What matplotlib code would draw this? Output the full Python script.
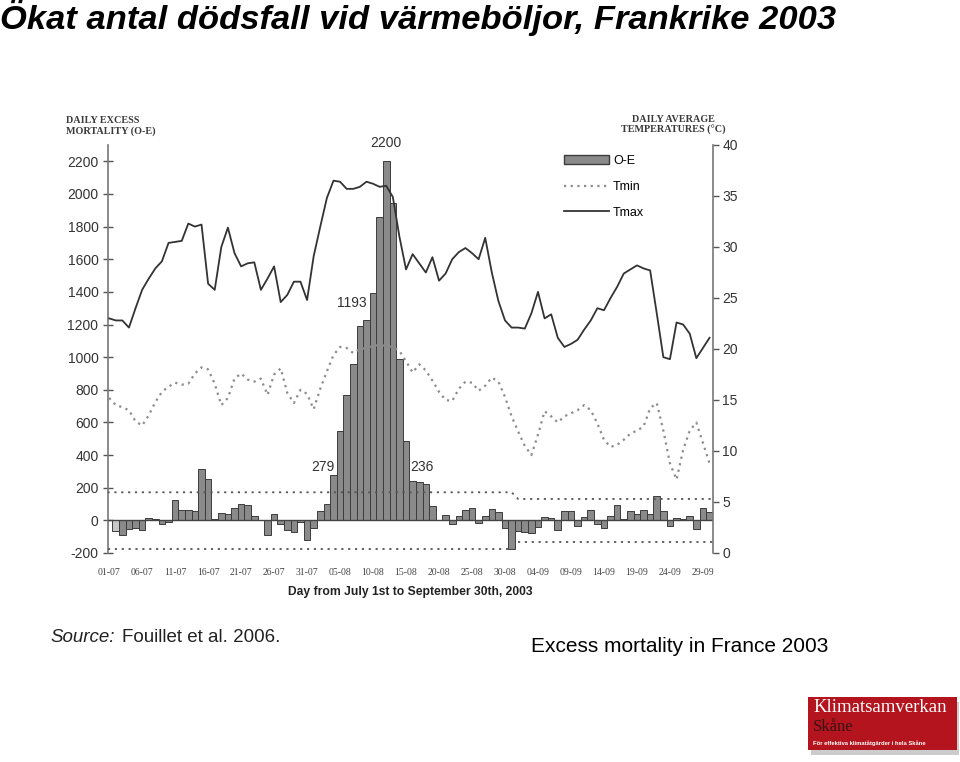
import matplotlib
matplotlib.use("Agg")
import matplotlib.pyplot as plt
from matplotlib.patches import Patch, Rectangle
from matplotlib.lines import Line2D

plt.rcParams["font.family"] = ["Liberation Sans", "DejaVu Sans"]
plt.rcParams["axes.unicode_minus"] = False

# daily excess mortality O-E, 2 July .. 30 September 2003
excess = [-65, -88, -55, -45, -58, 15, 8, -20, -10, 122,
          63, 63, 57, 314, 255, 10, 43, 36, 78, 100,
          93, 24, 2, -92, 36, -20, -62, -70, -13, -118,
          -45, 57, 102, 279, 546, 766, 958, 1193, 1229, 1392,
          1860, 2200, 1942, 990, 485, 243, 236, 220, 88, 0,
          31, -22, 29, 65, 73, -16, 29, 67, 49, -49,
          -175, -67, -71, -78, -41, 20, 14, -59, 55, 55,
          -35, 20, 65, -20, -47, 29, 92, 8, 55, 41,
          65, 41, 151, 55, -33, 14, 10, 29, -53, 73, 49]

# daily average temperatures, 1 July .. 30 September 2003
tmax = [23.0, 22.8, 22.8, 22.1, 24.0, 25.8, 26.9, 27.9, 28.6, 30.4,
        30.5, 30.6, 32.3, 32.0, 32.2, 26.4, 25.8, 30.0, 31.9, 29.4,
        28.1, 28.4, 28.5, 25.8, 26.9, 28.1, 24.6, 25.3, 26.6, 26.6,
        24.8, 29.1, 32.0, 34.8, 36.5, 36.4, 35.7, 35.7, 35.9, 36.4,
        36.2, 35.9, 36.0, 34.9, 31.0, 27.8, 29.3, 28.4, 27.5, 29.0,
        26.7, 27.4, 28.8, 29.5, 29.9, 29.4, 28.8, 30.9, 27.5, 24.7,
        22.8, 22.1, 22.1, 22.0, 23.5, 25.6, 23.0, 23.4, 21.1, 20.2,
        20.5, 20.9, 21.9, 22.8, 24.0, 23.8, 25.0, 26.1, 27.4, 27.8,
        28.2, 27.9, 27.7, 23.5, 19.2, 19.0, 22.6, 22.4, 21.5, 19.1,
        20.1, 21.1]
tmin = [15.2, 14.5, 14.3, 14.0, 12.9, 12.5, 13.5, 14.8, 15.8, 16.3,
        16.7, 16.5, 16.6, 17.6, 18.2, 18.0, 16.6, 14.5, 15.2, 17.1,
        17.6, 17.0, 16.8, 17.1, 15.5, 17.5, 18.1, 15.7, 14.7, 16.0,
        15.6, 14.1, 16.1, 17.8, 19.4, 20.2, 20.1, 19.6, 20.0, 20.1,
        20.3, 20.4, 20.3, 20.2, 19.8, 18.8, 17.7, 18.5, 17.9, 16.9,
        15.8, 15.0, 14.9, 16.1, 16.8, 16.7, 15.9, 16.4, 17.2, 16.8,
        15.3, 13.4, 11.9, 10.5, 9.6, 11.6, 13.9, 13.4, 12.8, 13.4,
        13.7, 14.0, 14.5, 14.0, 12.7, 11.1, 10.4, 10.6, 11.1, 11.7,
        12.0, 12.4, 14.2, 14.7, 12.0, 8.8, 7.2, 10.1, 12.0, 12.8,
        10.8, 8.8]

tick_labels = ["01-07", "06-07", "11-07", "16-07", "21-07", "26-07", "31-07",
               "05-08", "10-08", "15-08", "20-08", "25-08", "30-08",
               "04-09", "09-09", "14-09", "19-09", "24-09", "29-09"]

# confidence band of the expected mortality, before / after 1 September
band_upper = [172, 131]
band_lower = [-173, -130]
peak_labels = ["2200", "1193", "279", "236"]

bar_days = list(range(1, len(excess) + 1))
line_days = list(range(len(tmax)))

fig = plt.figure(figsize=(9.6, 7.62), dpi=100)


def px(x, y):
    return x / 960, 1 - y / 762


ax = fig.add_axes([107.5 / 960, 1 - 553 / 762, 605 / 960, 408 / 762])
ax2 = ax.twinx()

colors = ["#c8c8c8"] + ["#8a8a8a"] * (len(excess) - 1)
ax.bar(bar_days, excess, width=1.0, color=colors, edgecolor="#3c3c3c",
       linewidth=0.7, zorder=2)
ax.axhline(0, color="#444444", lw=1.0, zorder=3)

dots = (0, (1.2, 2.6))
ax.plot([-0.25, 61, 62, 91.45], [band_upper[0], band_upper[0], band_upper[1], band_upper[1]],
        ls=dots, color="#555555", lw=1.3, zorder=3)
ax.plot([-0.25, 61], [band_lower[0], band_lower[0]], ls=dots, color="#555555", lw=1.3, zorder=3)
ax.plot([62, 91.45], [band_lower[1], band_lower[1]], ls=dots, color="#555555", lw=1.3, zorder=3)

ax2.plot(line_days, tmax, color="#333333", lw=1.3)
ax2.plot(line_days, tmin, color="#8c8c8c", lw=1.6, ls=(0, (1, 2)))

ax.set_xlim(-0.25, 91.45)
ax.set_ylim(-200, 2300)
ax2.set_ylim(0, 40)

for s in ["top", "bottom", "right"]:
    ax.spines[s].set_visible(False)
    ax2.spines[s if s != "right" else "left"].set_visible(False)
ax.spines["left"].set_color("#777777")
ax.spines["left"].set_linewidth(1.2)
ax2.spines["right"].set_color("#777777")
ax2.spines["right"].set_linewidth(1.2)

ax.set_yticks(range(-200, 2201, 200))
ax.tick_params(axis="y", direction="inout", length=7, width=1, colors="#555555",
               labelcolor="#333333", labelsize=10, pad=3)
ax.set_xticks(range(0, 91, 5))
ax.set_xticklabels(tick_labels, fontfamily="Liberation Serif", fontsize=7, color="#444444")
ax.tick_params(axis="x", length=0, pad=11)
ax2.set_yticks(range(0, 41, 5))
ax2.tick_params(axis="y", direction="out", length=4, width=1, colors="#555555",
                labelcolor="#333333", labelsize=10, pad=3)
ax.set_xlabel("Day from July 1st to September 30th, 2003", fontsize=8.7,
              fontweight="bold", color="#222222", labelpad=6)

# values written next to the highlighted bars
ax.text(42, 2290, peak_labels[0], ha="center", va="baseline", fontsize=10, color="#333333")
ax.text(39.0, 1305, peak_labels[1], ha="right", va="baseline", fontsize=10, color="#333333")
ax.text(34.1, 305, peak_labels[2], ha="right", va="baseline", fontsize=10, color="#333333")
ax.text(45.7, 305, peak_labels[3], ha="left", va="baseline", fontsize=10, color="#333333")

handles = [Patch(facecolor="#8a8a8a", edgecolor="#3c3c3c", label="O-E"),
           Line2D([], [], color="#8c8c8c", lw=1.6, ls=(0, (1, 2)), label="Tmin"),
           Line2D([], [], color="#333333", lw=1.3, label="Tmax")]
ax2.legend(handles=handles, loc="upper left", bbox_to_anchor=(0.755, 0.975),
           frameon=False, fontsize=9, handlelength=3.6, handleheight=0.7,
           labelspacing=1.1, handletextpad=0.3, borderpad=0, borderaxespad=0)

serif = ["Liberation Serif", "DejaVu Serif"]
fig.text(*px(66, 126), "DAILY EXCESS\nMORTALITY (O-E)", family=serif, fontsize=7.3,
         fontweight="bold", color="#3a3a3a", va="center", ha="left", linespacing=1.15)
fig.text(*px(673, 125), "DAILY AVERAGE\nTEMPERATURES (°C)", family=serif, fontsize=7.3,
         fontweight="bold", color="#3a3a3a", va="center", ha="center", linespacing=1.15)

fig.text(*px(0, 18), "Ökat antal dödsfall vid värmeböljor, Frankrike 2003",
         fontsize=24.8, fontweight="bold", fontstyle="italic", color="black",
         ha="left", va="center")
fig.text(*px(531, 646), "Excess mortality in France 2003", fontsize=15,
         color="black", ha="left", va="center")
fig.text(*px(50, 638), "Source:", fontsize=13.5, fontstyle="italic", color="#222222",
         ha="left", va="center")
fig.text(*px(122, 638), "Fouillet et al. 2006.", fontsize=13.5, color="#222222",
         ha="left", va="center")

# logo box
fig.add_artist(Rectangle(px(811, 755), 148 / 960, 53 / 762, transform=fig.transFigure,
                         facecolor="#9a9a9a", edgecolor="none", alpha=0.5))
fig.add_artist(Rectangle(px(808, 750), 149 / 960, 53 / 762, transform=fig.transFigure,
                         facecolor="#b3141d", edgecolor="none"))
fig.text(*px(813, 708), "Klimatsamverkan", family=serif, fontsize=13.5, color="white",
         ha="left", va="center")
fig.text(*px(813, 727), "Skåne", family=serif, fontsize=12, color="#3a1212",
         ha="left", va="center")
fig.text(*px(813, 743), "För effektiva klimatåtgärder i hela Skåne", fontsize=4.2,
         fontweight="bold", color="white", ha="left", va="center")

fig.savefig("out.png", dpi=100)
